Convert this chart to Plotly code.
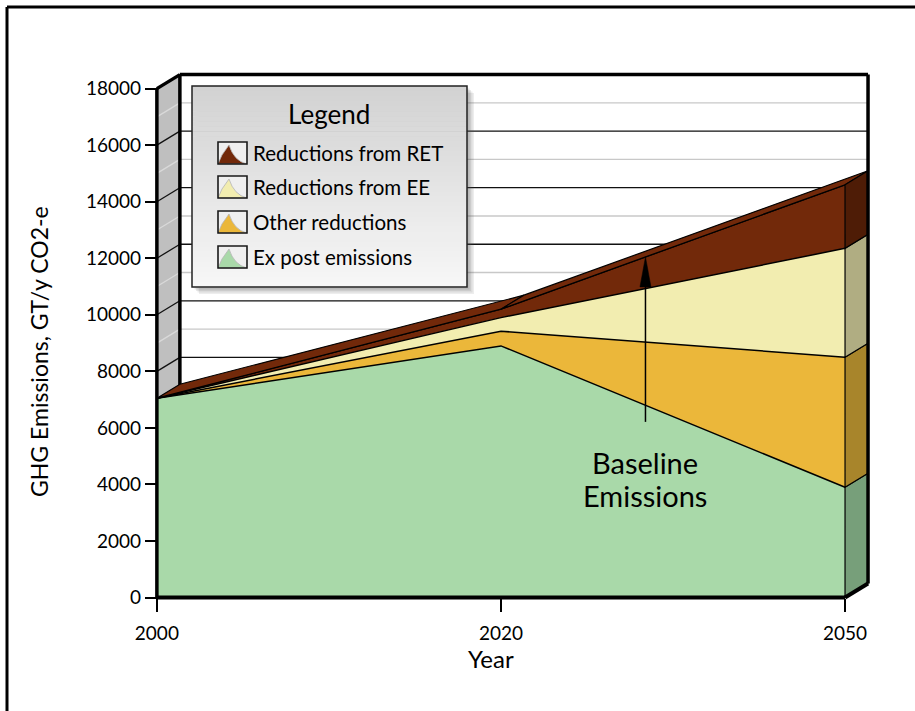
import plotly.graph_objects as go

# ---- data ----
years = ["2000", "2020", "2050"]
ex_post = [7050, 8900, 3900]
other_red = [0, 520, 4600]
ee_red = [0, 480, 3850]
ret_red = [0, 300, 2250]

series_names = ["Ex post emissions", "Other reductions", "Reductions from EE", "Reductions from RET"]
front_colors = ["#a9d9a9", "#ebb73a", "#f2edb0", "#72290a"]
side_colors = ["#779f7a", "#a8852b", "#b0ad82", "#4e1c06"]
y_ticks = list(range(0, 18001, 2000))
y_ticktext = [str(v) for v in y_ticks]
grid_levels = list(range(1000, 18001, 1000))

# ---- geometry of the plotting area ----
FIG_W, FIG_H = 915, 711
L, R, T, B = 150, 39, 66, 105
W = FIG_W - L - R
H = FIG_H - T - B
X0, X1 = -0.02, 2.09
Y0, Y1 = -300, 18800
YMAX = 18000
DEPTH_PX = (23, 14)
DX = DEPTH_PX[0] / (W / (X1 - X0))
DY = DEPTH_PX[1] / (H / (Y1 - Y0))


def px_x(px):
    return (px - L) / W


def px_y(py):
    return 1 - (py - T) / H


xs = list(range(len(years)))
series = [ex_post, other_red, ee_red, ret_red]
stack = []
run = [0] * len(years)
for s in series:
    lo = run[:]
    run = [a + b for a, b in zip(run, s)]
    stack.append((lo, run[:]))
top = stack[-1][1]

fig = go.Figure()

for name, vals, col in zip(series_names, series, front_colors):
    fig.add_trace(go.Scatter(
        x=xs, y=vals, name=name, stackgroup="one", mode="lines",
        line=dict(color="black", width=1.5), fillcolor=col,
    ))

shapes = []


def line(x0, y0, x1, y1, color="black", width=1, layer="above", ref="data"):
    d = dict(type="line", x0=x0, y0=y0, x1=x1, y1=y1,
             line=dict(color=color, width=width), layer=layer)
    if ref == "paper":
        d.update(xref="paper", yref="paper")
    else:
        d.update(xref="x", yref="y")
    shapes.append(d)


def poly(pts, fill, lc="black", lw=1, layer="above"):
    path = "M " + " L ".join(f"{x},{y}" for x, y in pts) + " Z"
    shapes.append(dict(type="path", path=path, xref="x", yref="y",
                       fillcolor=fill, line=dict(color=lc, width=lw), layer=layer))


# back wall grid
for v in grid_levels:
    major = v % 2000 == 0
    line(DX, v + DY, xs[-1] + DX, v + DY,
         color="#111111" if major else "#c8c8c8", width=1.3, layer="below")

# left side wall
poly([(0, 0), (0, YMAX), (DX, YMAX + DY), (DX, DY)], "#bfbfbf", lc="#9a9a9a", lw=1, layer="below")
for v in grid_levels:
    major = v % 2000 == 0
    line(0, v, DX, v + DY, color="#111111" if major else "#d9d9d9", width=1.3, layer="below")
line(DX, DY, DX, YMAX + DY, width=3.5, layer="below")

# top face of the stack
for i in range(len(xs) - 1):
    poly([(xs[i], top[i]), (xs[i + 1], top[i + 1]),
          (xs[i + 1] + DX, top[i + 1] + DY), (xs[i] + DX, top[i] + DY)],
         front_colors[-1], lw=1.2)

# right side faces at the last year
j = len(xs) - 1
for (lo, hi), col in zip(stack, side_colors):
    poly([(xs[j], lo[j]), (xs[j], hi[j]), (xs[j] + DX, hi[j] + DY), (xs[j] + DX, lo[j] + DY)],
         col, lw=1.2)

# frame edges
line(DX, YMAX + DY, xs[-1] + DX, YMAX + DY, width=3.5)
line(0, YMAX, DX, YMAX + DY, width=3.5)
line(xs[-1] + DX, DY, xs[-1] + DX, YMAX + DY, width=3.5)
line(0, 0, 0, YMAX, width=3.5)
line(0, 0, xs[-1], 0, width=4)
line(xs[-1], 0, xs[-1] + DX, DY, width=4)

# arrow pointing at baseline emissions
ax_x = 1.42
k = 1
frac = (ax_x - xs[k]) / (xs[k + 1] - xs[k])
tip = top[k] + frac * (top[k + 1] - top[k])
px_per_x = W / (X1 - X0)
px_per_y = H / (Y1 - Y0)
head_len = 30 / px_per_y
head_half = 5.5 / px_per_x
tail = tip - 165 / px_per_y
line(ax_x, tail, ax_x, tip - head_len * 0.8, width=1.5)
poly([(ax_x, tip), (ax_x - head_half, tip - head_len), (ax_x + head_half, tip - head_len)],
     "black", lw=0.5)

# legend box: soft shadow, gradient fill, border
lx0, ly0, lx1, ly1 = 192, 86, 467, 287
for i, a in enumerate([0.10, 0.10, 0.12, 0.14]):
    off = 7 - i * 1.5
    shapes.append(dict(type="rect", xref="paper", yref="paper",
                       x0=px_x(lx0 + off), y0=px_y(ly1 + off), x1=px_x(lx1 + off), y1=px_y(ly0 + off),
                       fillcolor=f"rgba(80,80,80,{a})", line=dict(width=0), layer="above"))
n = 40
c_top = (210, 210, 210)
c_bot = (247, 247, 247)
for i in range(n):
    t = i / (n - 1)
    c = tuple(round(a + (b - a) * t) for a, b in zip(c_top, c_bot))
    ya = ly0 + (ly1 - ly0) * i / n
    yb = ly0 + (ly1 - ly0) * (i + 1) / n + 0.6
    shapes.append(dict(type="rect", xref="paper", yref="paper",
                       x0=px_x(lx0), y0=px_y(yb), x1=px_x(lx1), y1=px_y(ya),
                       fillcolor=f"rgb{c}", line=dict(width=0), layer="above"))
shapes.append(dict(type="rect", xref="paper", yref="paper",
                   x0=px_x(lx0), y0=px_y(ly1), x1=px_x(lx1), y1=px_y(ly0),
                   fillcolor="rgba(0,0,0,0)", line=dict(color="#222222", width=1.5), layer="above"))

# legend entries: boxed mountain icons, topmost series first
FONT = "Lato, 'Open Sans', sans-serif"
annotations = []
item_y = [153, 187, 222, 257]
icon_x0, icon_x1 = 218, 247
for yc, name, col in zip(item_y, series_names[::-1], front_colors[::-1]):
    yt, yb = yc - 11, yc + 11
    shapes.append(dict(type="rect", xref="paper", yref="paper",
                       x0=px_x(icon_x0), y0=px_y(yb), x1=px_x(icon_x1), y1=px_y(yt),
                       fillcolor="#efefef", line=dict(width=0), layer="above"))
    pts = [(icon_x0, yb), (icon_x0 + 4, yb - 9), (icon_x0 + 11, yt + 3)]
    path = "M " + " L ".join(f"{px_x(x)},{px_y(y)}" for x, y in pts)
    path += f" Q {px_x(icon_x0 + 16)},{px_y(yb - 3)} {px_x(icon_x1)},{px_y(yb)} Z"
    shapes.append(dict(type="path", path=path, xref="paper", yref="paper",
                       fillcolor=col, line=dict(color="#b5b5b5", width=0.8), layer="above"))
    shapes.append(dict(type="rect", xref="paper", yref="paper",
                       x0=px_x(icon_x0), y0=px_y(yb), x1=px_x(icon_x1), y1=px_y(yt),
                       fillcolor="rgba(0,0,0,0)", line=dict(color="#1a1a1a", width=1.6), layer="above"))
    annotations.append(dict(text=name, x=px_x(251), y=px_y(yc), xref="paper", yref="paper",
                            xanchor="left", yanchor="middle", showarrow=False,
                            font=dict(family=FONT, size=20.5, color="black")))
annotations.append(dict(text="Legend", x=px_x(329), y=px_y(114), xref="paper", yref="paper",
                        xanchor="center", yanchor="middle", showarrow=False,
                        font=dict(family=FONT, size=26, color="black")))

# outer frame
line(px_x(7), px_y(7), px_x(7), px_y(FIG_H + 5), width=3, ref="paper")
line(px_x(7), px_y(7), px_x(FIG_W + 5), px_y(7), width=3, ref="paper")

annotations += [
    dict(text="Baseline", x=ax_x, y=px_y(462), xref="x", yref="paper",
         xanchor="center", yanchor="middle", showarrow=False, height=30,
         font=dict(family=FONT, size=29, color="black")),
    dict(text="Emissions", x=ax_x, y=px_y(495), xref="x", yref="paper",
         xanchor="center", yanchor="middle", showarrow=False, height=30,
         font=dict(family=FONT, size=29, color="black")),
    dict(text="GHG Emissions, GT/y CO2-e", x=px_x(39), y=px_y(352), xref="paper", yref="paper",
         xanchor="center", yanchor="middle",
         textangle=-90, showarrow=False, font=dict(family=FONT, size=23, color="black")),
    dict(text="Year", x=px_x(491), y=px_y(658), xref="paper", yref="paper",
         xanchor="center", yanchor="middle",
         showarrow=False, font=dict(family=FONT, size=24, color="black")),
]

fig.update_layout(
    width=FIG_W, height=FIG_H,
    margin=dict(l=L, r=R, t=T, b=B, pad=0),
    paper_bgcolor="white", plot_bgcolor="white",
    shapes=shapes, annotations=annotations,
    showlegend=False,
    xaxis=dict(
        range=[X0, X1], tickvals=xs, ticktext=years,
        anchor="free", position=(0 - Y0) / (Y1 - Y0),
        showgrid=False, zeroline=False, showline=False,
        ticks="outside", ticklen=13, tickwidth=1.5, tickcolor="black",
        ticklabelstandoff=6,
        tickfont=dict(family=FONT, size=19, color="black"),
    ),
    yaxis=dict(
        range=[Y0, Y1], tickvals=y_ticks, ticktext=y_ticktext,
        anchor="free", position=(0 - X0) / (X1 - X0),
        showgrid=False, zeroline=False, showline=False,
        ticks="outside", ticklen=12, tickwidth=2, tickcolor="black",
        tickfont=dict(family=FONT, size=19, color="black"),
    ),
)

fig.write_html("out.html")
